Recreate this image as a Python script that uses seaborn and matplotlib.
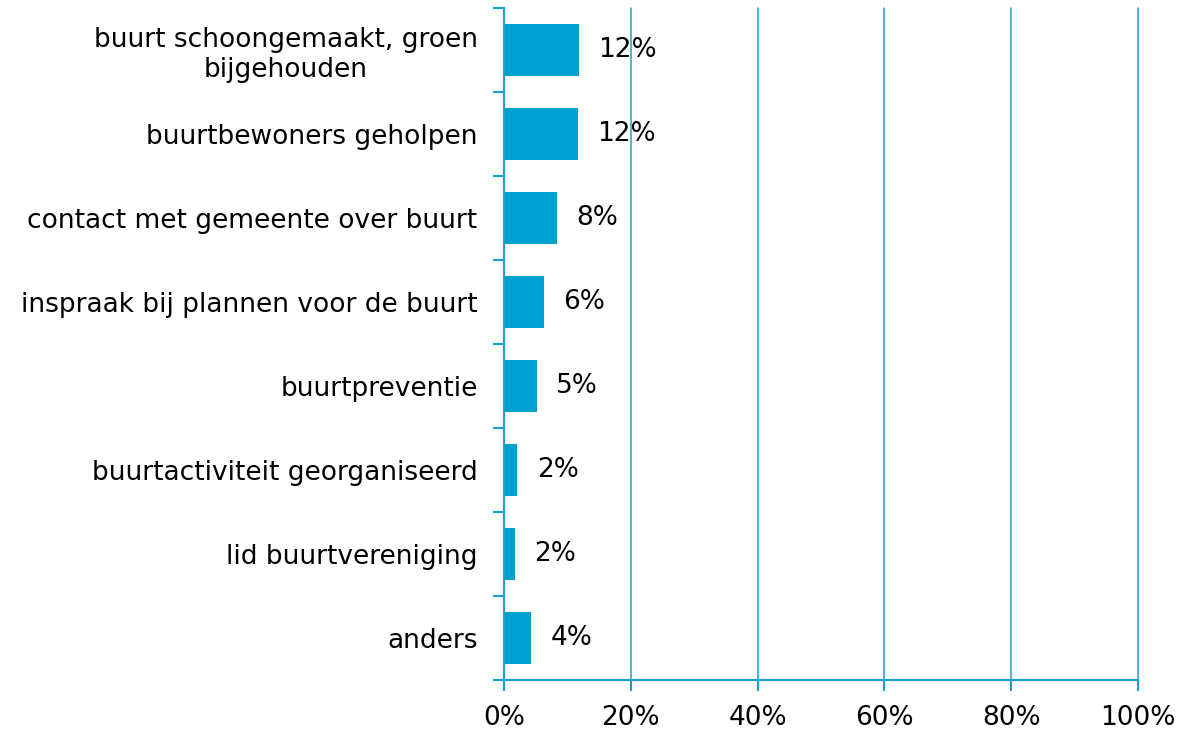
import matplotlib
matplotlib.use("Agg")
import matplotlib.pyplot as plt
import seaborn as sns
import pandas as pd
import numpy as np

categories = [
    "buurt schoongemaakt, groen\nbijgehouden",
    "buurtbewoners geholpen",
    "contact met gemeente over buurt",
    "inspraak bij plannen voor de buurt",
    "buurtpreventie",
    "buurtactiviteit georganiseerd",
    "lid buurtvereniging",
    "anders",
]
values = [11.8, 11.7, 8.4, 6.3, 5.2, 2.1, 1.7, 4.3]
value_labels = ["12%", "12%", "8%", "6%", "5%", "2%", "2%", "4%"]
xticks = [0, 20, 40, 60, 80, 100]
xtick_labels = ["0%", "20%", "40%", "60%", "80%", "100%"]

bar_color = "#00a0d1"
line_color = "#1a9fd2"

sns.set_theme(style="white")
plt.rcParams['font.family'] = ['DejaVu Sans']

df = pd.DataFrame({"cat": categories, "val": values})

fig = plt.figure(figsize=(11.96, 7.30), dpi=100)
ax = fig.add_axes([0.4214, 0.0685, 0.5301, 0.9205])

sns.barplot(data=df, y="cat", x="val", orient="h", color=bar_color,
            width=0.62, saturation=1, linewidth=0, ax=ax)

ax.set_xlim(0, 100)
ax.set_ylim(len(categories) - 0.5, -0.5)
ax.set_xlabel("")
ax.set_ylabel("")

fs = 19

# gridlines
ax.set_xticks(xticks)
ax.set_xticklabels(xtick_labels, fontsize=fs, color="black")
ax.xaxis.grid(True, color=line_color, linewidth=1.1)
ax.set_axisbelow(True)
for gl in ax.xaxis.get_gridlines():
    gl.set_clip_on(False)

# y ticks: labels at centers, tick marks at boundaries
ax.set_yticks(range(len(categories)))
ax.set_yticklabels(categories, fontsize=fs, color="black", multialignment="center")
ax.tick_params(axis="y", which="major", length=0, pad=19)
ax.set_yticks(np.arange(-0.5, len(categories) + 0.5, 1), minor=True)
ax.tick_params(axis="y", which="minor", length=8, width=1.5, color=line_color, direction="out", left=True)
ax.tick_params(axis="x", which="major", length=8, width=1.5, color=line_color, direction="out", bottom=True, pad=10)

for side in ["top", "right"]:
    ax.spines[side].set_visible(False)
for side in ["left", "bottom"]:
    ax.spines[side].set_visible(True)
    ax.spines[side].set_color(line_color)
    ax.spines[side].set_linewidth(1.5)

for i, (v, lab) in enumerate(zip(values, value_labels)):
    ax.annotate(lab, xy=(v, i), xytext=(14, 0), textcoords="offset points",
                ha="left", va="center", fontsize=fs, color="black")

fig.savefig("out.png", dpi=100)
